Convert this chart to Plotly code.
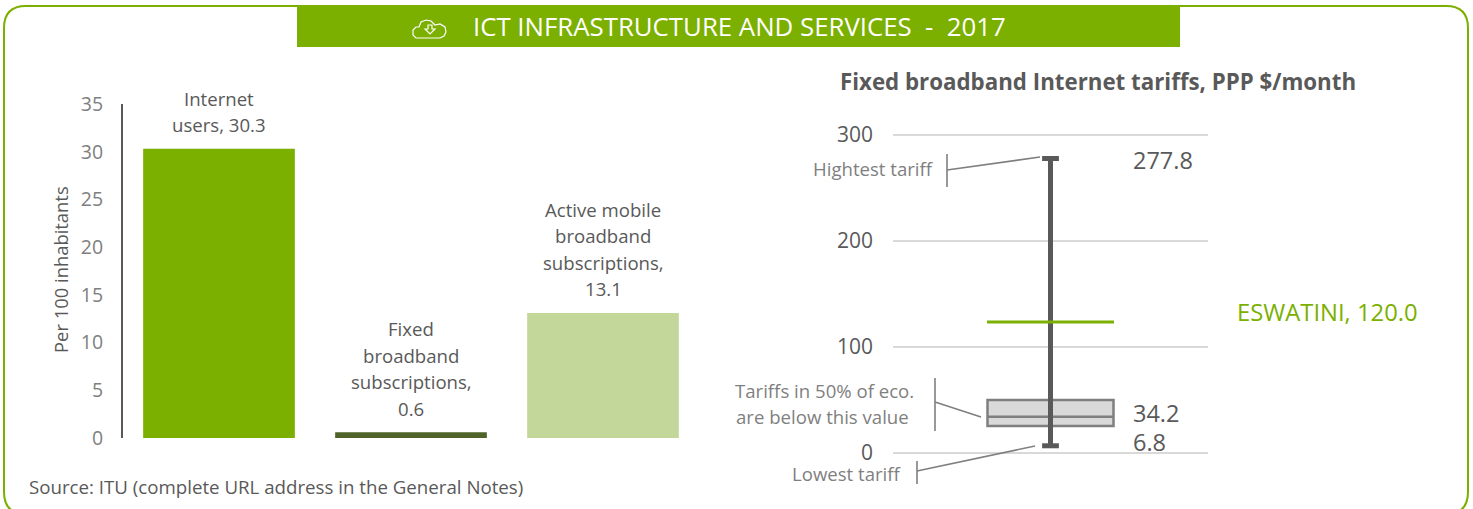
import plotly.graph_objects as go

W, H = 1473, 509
FONT = "Open Sans"
GREEN = "#7BAF00"

# Left chart data
bar_labels = [["Internet", "users, 30.3"],
              ["Fixed", "broadband", "subscriptions,", "0.6"],
              ["Active mobile", "broadband", "subscriptions,", "13.1"]]
bar_categories = ["Internet users", "Fixed broadband subscriptions", "Active mobile broadband subscriptions"]
bar_values = [30.3, 0.6, 13.1]
bar_colors = ["#7BAF00", "#4F6228", "#C4D79B"]
left_ticks = [0, 5, 10, 15, 20, 25, 30, 35]

# Right chart data
tariff_low = 6.8
tariff_q1 = 25.5
tariff_median = 34.2
tariff_q3 = 50
tariff_high = 277.8
eswatini_drawn = 123.5
eswatini_label = "ESWATINI, 120.0"
right_ticks = [0, 100, 200, 300]


def px(x):
    return x / W


def py(y):
    return 1 - y / H


fig = go.Figure()

fig.add_trace(go.Bar(x=bar_categories, y=bar_values, marker=dict(color=bar_colors, line_width=0),
                     width=0.79, xaxis="x", yaxis="y", showlegend=False))

fig.add_trace(go.Box(x=[0], q1=[tariff_q1], median=[tariff_median], q3=[tariff_q3],
                     lowerfence=[tariff_low], upperfence=[tariff_high], width=0.8, whiskerwidth=0,
                     fillcolor="#D9D9D9", line=dict(color="#7F7F7F", width=2.5),
                     xaxis="x2", yaxis="y2", showlegend=False, hoverinfo="skip"))
fig.add_trace(go.Scatter(x=[0, 0], y=[tariff_low, tariff_high], mode="lines+markers",
                         line=dict(color="#595959", width=5),
                         marker=dict(symbol="line-ew", size=12, line=dict(color="#595959", width=5)),
                         xaxis="x2", yaxis="y2", showlegend=False))
fig.add_trace(go.Scatter(x=[-0.403, 0.403], y=[eswatini_drawn, eswatini_drawn], mode="lines",
                         line=dict(color=GREEN, width=3),
                         xaxis="x2", yaxis="y2", showlegend=False))

annotations = []


def text(x, y, s, size, color, anchor="center", **kw):
    annotations.append(dict(x=px(x), y=py(y - 1), xref="paper", yref="paper", text=s, showarrow=False,
                            xanchor=anchor, yanchor="middle",
                            font=dict(family=FONT, size=size, color=color), **kw))


# Bar labels: one annotation per line to obtain the wide line spacing of the original
for cat, val, lines in zip(bar_categories, bar_values, bar_labels):
    for k, line in enumerate(reversed(lines)):
        annotations.append(dict(x=cat, y=val, xref="x", yref="y", text=line, showarrow=False,
                                xanchor="center", yanchor="bottom", yshift=9.5 + k * 26.5,
                                font=dict(family=FONT, size=18.6, color="#595959")))

text(60, 271, "Per 100 inhabitants", 18.4, "#595959", textangle=-90)
text(27, 487, "Source: ITU (complete URL address in the General Notes)", 18.7, "#595959", anchor="left")
text(1098, 82, "<b>Fixed broadband Internet tariffs, PPP $/month</b>", 22.3, "#595959")
text(471, 27, "ICT INFRASTRUCTURE AND SERVICES  -  2017", 25.8, "white", anchor="left")
text(873, 170, "Hightest tariff", 18.6, "#7F7F7F")
text(824, 391, "Tariffs in 50% of eco.", 18.6, "#7F7F7F")
text(822, 417, "are below this value", 18.6, "#7F7F7F")
text(847, 474, "Lowest tariff", 18.6, "#7F7F7F")
text(1131, 161, f"{tariff_high}", 23.5, "#595959", anchor="left")
text(1131, 414, f"{tariff_median}", 23.5, "#595959", anchor="left")
text(1131, 443, f"{tariff_low}", 23.5, "#595959", anchor="left")
text(1235, 313, eswatini_label, 23.8, GREEN, anchor="left")

# Decoration: frame, header band, leader lines, cloud icon (all paper-positioned)
r = 22
fx0, fx1, fy0, fy1 = 4, 1468, 6, 514
frame = (f"M {px(fx0)} {py(fy1 - r)} L {px(fx0)} {py(fy0 + r)} "
         f"Q {px(fx0)} {py(fy0)} {px(fx0 + r)} {py(fy0)} L {px(fx1 - r)} {py(fy0)} "
         f"Q {px(fx1)} {py(fy0)} {px(fx1)} {py(fy0 + r)} L {px(fx1)} {py(fy1 - r)} "
         f"Q {px(fx1)} {py(fy1)} {px(fx1 - r)} {py(fy1)} L {px(fx0 + r)} {py(fy1)} "
         f"Q {px(fx0)} {py(fy1)} {px(fx0)} {py(fy1 - r)} Z")
shapes = [
    dict(type="path", xref="paper", yref="paper", path=frame, line=dict(color=GREEN, width=2),
         layer="below"),
    dict(type="rect", xref="paper", yref="paper", x0=px(297), x1=px(1180), y0=py(47), y1=py(6),
         fillcolor=GREEN, line_width=0, layer="below"),
]
leaders = [
    [(947, 154), (947, 187)], [(947, 170), (1040, 157)],
    [(935, 378), (935, 431)], [(935, 402), (981, 417)],
    [(917, 461), (917, 484)], [(917, 471), (1035, 446)],
]
for (a, b), (c, d) in leaders:
    shapes.append(dict(type="line", xref="paper", yref="paper", x0=px(a), y0=py(b), x1=px(c), y1=py(d),
                       line=dict(color="#7F7F7F", width=1.6)))

# cloud icon
cloud = [(420, 38), (416, 38), (413, 35), (413, 30), (416, 27), (419, 27), (421, 22), (426, 20), (431, 21),
         (435, 25), (440, 24), (445, 27), (446, 32), (444, 36), (440, 38), (420, 38)]
arrow = [(428, 25), (432, 25), (432, 29), (435, 29), (430, 34), (425, 29), (428, 29), (428, 25)]
for pts in (cloud, arrow):
    d = "M " + " L ".join(f"{px(x)} {py(y)}" for x, y in pts) + " Z"
    shapes.append(dict(type="path", xref="paper", yref="paper", path=d, line=dict(color="white", width=1.2)))

fig.update_layout(
    width=W, height=H, autosize=False,
    margin=dict(l=0, r=0, t=0, b=0),
    paper_bgcolor="white", plot_bgcolor="rgba(0,0,0,0)",
    font=dict(family=FONT, color="#595959"),
    showlegend=False, bargap=0.21,
    annotations=annotations, shapes=shapes,
    xaxis=dict(domain=[px(123), px(699)], visible=False, type="category", fixedrange=True, automargin=False),
    yaxis=dict(domain=[py(438), py(104)], range=[0, 35], tickvals=left_ticks, showgrid=False, zeroline=False,
               showline=True, linecolor="#595959", linewidth=2, ticks="", ticklabelstandoff=14, automargin=False,
               tickfont=dict(family=FONT, size=19.5, color="#7F7F7F"), anchor="x"),
    xaxis2=dict(domain=[px(893), px(1208)], range=[-1, 1], visible=False, fixedrange=True, anchor="y2",
                automargin=False),
    yaxis2=dict(domain=[py(453), py(130)], range=[0, 304.7], tickvals=right_ticks, showgrid=True,
                gridcolor="#D9D9D9", gridwidth=2, zeroline=True, zerolinecolor="#D9D9D9", zerolinewidth=2,
                showline=False, ticks="", ticklabelstandoff=19, automargin=False,
                tickfont=dict(family=FONT, size=21, color="#595959"), anchor="x2"),
)

fig.write_html("out.html", post_script="document.body.style.margin='0';",
               config={"displayModeBar": False})
